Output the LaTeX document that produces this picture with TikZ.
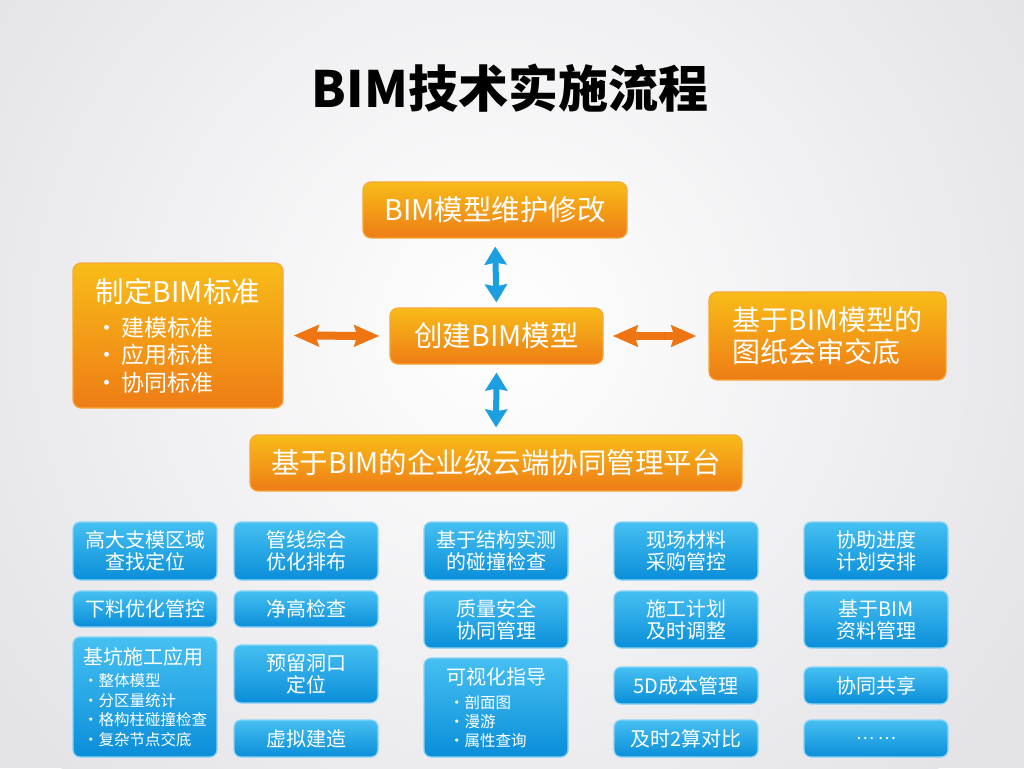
\documentclass[tikz,border=0pt]{standalone}
\usepackage{fontspec}
\setmainfont{Noto Sans CJK SC}
\usetikzlibrary{arrows.meta}

\definecolor{bggray}{HTML}{E4E4E8}
\definecolor{orangetop}{HTML}{F8BC18}
\definecolor{orangebot}{HTML}{EE7C16}
\definecolor{orangeline}{HTML}{F4A83A}
\definecolor{bluetop}{HTML}{46C0F2}
\definecolor{bluebot}{HTML}{0A8ED9}
\definecolor{blueline}{HTML}{8AD4F6}
\definecolor{arrowor}{HTML}{EF7412}
\definecolor{arrowbl}{HTML}{1C9FE0}

\tikzset{
  obox/.style={draw=orangeline, line width=1.2pt, rounded corners=8pt,
    top color=orangetop, bottom color=orangebot, text=white, inner sep=0pt},
  bbox/.style={draw=blueline, line width=1.2pt, rounded corners=7pt,
    top color=bluetop, bottom color=bluebot, text=white, inner sep=0pt,
    minimum width=144pt, align=center, font=\fontsize{20}{22}\selectfont},
  oarrow/.style={arrowor, line width=8pt,
    {Stealth[length=25pt,width=21pt,inset=3pt]}-{Stealth[length=25pt,width=21pt,inset=3pt]}},
  barrow/.style={arrowbl, line width=6pt,
    {Stealth[length=18pt,width=22pt,inset=2pt]}-{Stealth[length=18pt,width=22pt,inset=2pt]}}
}

\begin{document}
\begin{tikzpicture}[x=1pt, y=-1pt]
\useasboundingbox (0,0) rectangle (1024,768);
\fill[bggray] (0,0) rectangle (1024,768);
\shade[inner color=white, outer color=bggray] (500,330) circle (620);

\node[font=\fontsize{50}{50}\selectfont\bfseries] (title) at (510,88) {BIM技术实施流程};

% orange part
\node[obox, minimum width=264pt, minimum height=56pt, font=\fontsize{28.5}{28.5}\selectfont] (maint) at (495,210) {BIM模型维护修改};
\node[obox, minimum width=213pt, minimum height=56pt, font=\fontsize{28.5}{28.5}\selectfont] (model) at (496.5,336) {创建BIM模型};
\node[obox, minimum width=210pt, minimum height=145pt, align=left, font=\fontsize{23}{27.5}\selectfont] (std) at (178,335.5)
  {{\fontsize{28.5}{28.5}\selectfont 制定BIM标准}\\[6.5pt]
   ·\hspace{3pt}建模标准\\ ·\hspace{3pt}应用标准\\ ·\hspace{3pt}协同标准};
\node[obox, minimum width=237pt, minimum height=88pt, align=left, font=\fontsize{28}{32}\selectfont] (review) at (827.5,336)
  {基于BIM模型的\\图纸会审交底};
\node[obox, minimum width=492pt, minimum height=56pt, font=\fontsize{28.5}{28.5}\selectfont] (cloud) at (496,463) {基于BIM的企业级云端协同管理平台};

\draw[barrow, shorten <=8pt, shorten >=5pt] (maint.south) -- (model.north);
\draw[barrow, shorten <=8pt, shorten >=7pt] (model.south) -- (cloud.north);
\draw[oarrow, shorten <=10pt, shorten >=10pt] (std.east) -- (model.west);
\draw[oarrow, shorten <=9pt, shorten >=12pt] (model.east) -- (review.west);

% blue part, column 1
\node[bbox, minimum height=58pt] (b11) at (145,551) {高大支模区域\\查找定位};
\node[bbox, minimum height=36pt] (b12) at (145,609) {下料优化管控};
\node[bbox, minimum height=120pt, align=left, font=\fontsize{15.5}{19.5}\selectfont] (b13) at (145,697)
  {{\fontsize{20}{20}\selectfont 基坑施工应用}\\[2.5pt]
   ·整体模型\\ ·分区量统计\\ ·格构柱碰撞检查\\ ·复杂节点交底};
% column 2
\node[bbox, minimum height=58pt] (b21) at (306,551) {管线综合\\优化排布};
\node[bbox, minimum height=36pt] (b22) at (306,609) {净高检查};
\node[bbox, minimum height=58pt] (b23) at (306,674) {预留洞口\\定位};
\node[bbox, minimum height=37pt] (b24) at (306,738.5) {虚拟建造};
% column 3
\node[bbox, minimum height=58pt] (b31) at (496,551) {基于结构实测\\的碰撞检查};
\node[bbox, minimum height=57pt] (b32) at (496,619.5) {质量安全\\协同管理};
\node[bbox, minimum height=99pt, align=left, font=\fontsize{15.5}{19}\selectfont] (b33) at (496,707.5)
  {{\fontsize{20}{20}\selectfont 可视化指导}\\[4.5pt]
   \hspace*{3pt}·剖面图\\ \hspace*{3pt}·漫游\\ \hspace*{3pt}·属性查询};
% column 4
\node[bbox, minimum height=58pt] (b41) at (686,551) {现场材料\\采购管控};
\node[bbox, minimum height=57pt] (b42) at (686,619.5) {施工计划\\及时调整};
\node[bbox, minimum height=37pt] (b43) at (686,685.5) {5D成本管理};
\node[bbox, minimum height=37pt] (b44) at (686,738.5) {及时2算对比};
% column 5
\node[bbox, minimum height=58pt] (b51) at (876,551) {协助进度\\计划安排};
\node[bbox, minimum height=57pt] (b52) at (876,619.5) {基于BIM\\资料管理};
\node[bbox, minimum height=37pt] (b53) at (876,685.5) {协同共享};
\node[bbox, minimum height=37pt, font=\fontsize{17}{17}\selectfont] (b54) at (876,738.5) {… …};
\end{tikzpicture}
\end{document}
